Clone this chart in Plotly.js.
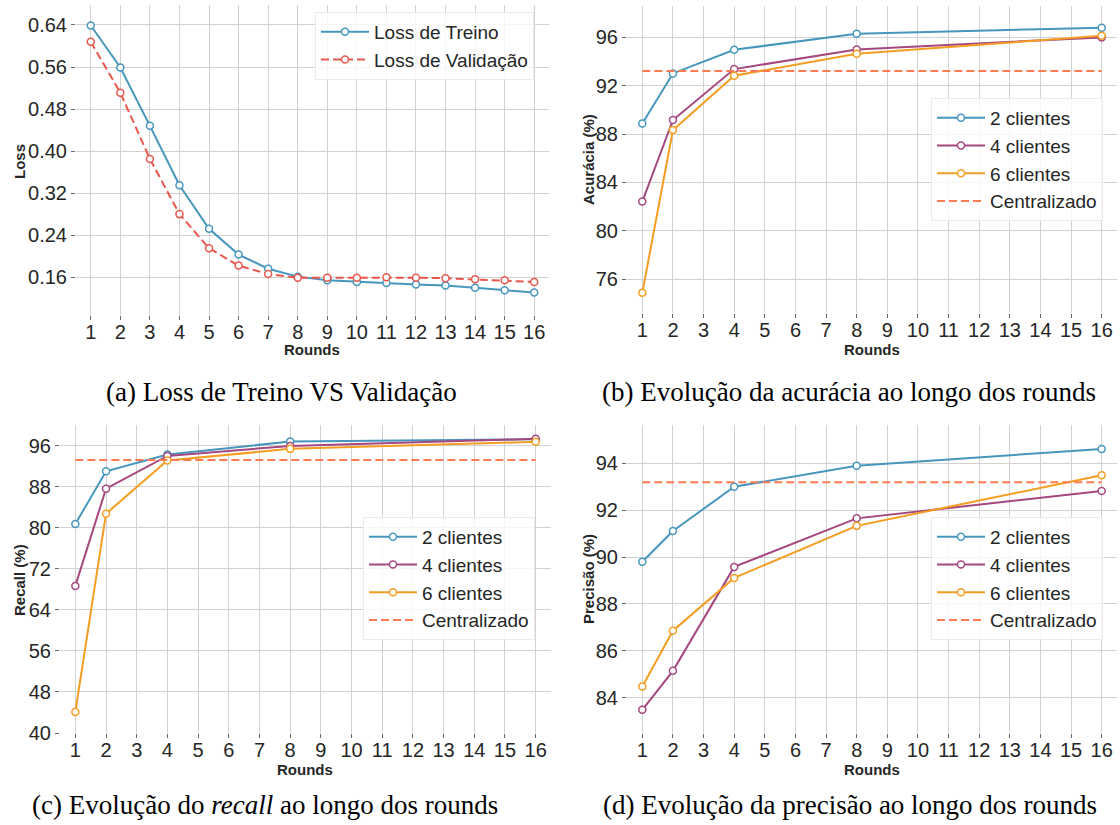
<!DOCTYPE html>
<html>
<head>
<meta charset="utf-8">
<script src="https://cdn.plot.ly/plotly-3.0.1.min.js"></script>
<style>
  html, body { margin: 0; padding: 0; background: #ffffff; }
  #chart { width: 1120px; height: 825px; }
</style>
</head>
<body>
<div id="chart"></div>
<script>
// ---------------- DATA ----------------
const roundsAll = [1, 2, 3, 4, 5, 6, 7, 8, 9, 10, 11, 12, 13, 14, 15, 16];
const roundsFed = [1, 2, 4, 8, 16];
const xTickVals = [1, 2, 3, 4, 5, 6, 7, 8, 9, 10, 11, 12, 13, 14, 15, 16];

const lossTreino = [0.639, 0.559, 0.448, 0.335, 0.252, 0.203, 0.176, 0.161, 0.154, 0.151, 0.149, 0.146, 0.144, 0.140, 0.135, 0.131];
const lossValidacao = [0.608, 0.511, 0.385, 0.280, 0.215, 0.182, 0.166, 0.159, 0.159, 0.159, 0.160, 0.159, 0.158, 0.156, 0.154, 0.151];

const acc2 = [88.87, 93.02, 94.98, 96.30, 96.80];
const acc4 = [82.42, 89.17, 93.38, 95.01, 96.00];
const acc6 = [74.87, 88.34, 92.83, 94.65, 96.14];
const accCentral = 93.22;

const rec2 = [80.70, 90.99, 94.24, 96.78, 97.24];
const rec4 = [68.66, 87.60, 93.98, 95.93, 97.30];
const rec6 = [44.10, 82.72, 93.07, 95.35, 96.72];
const recCentral = 93.20;

const prec2 = [89.80, 91.11, 93.00, 93.89, 94.61];
const prec4 = [83.49, 85.15, 89.58, 91.65, 92.82];
const prec6 = [84.48, 86.86, 89.11, 91.33, 93.49];
const precCentral = 93.19;

const seriesNames = ['2 clientes', '4 clientes', '6 clientes', 'Centralizado'];
const lossNames = ['Loss de Treino', 'Loss de Validação'];
const captions = [
  '(a) Loss de Treino VS Validação',
  '(b) Evolução da acurácia ao longo dos rounds',
  '(c) Evolução do <i>recall</i> ao longo dos rounds',
  '(d) Evolução da precisão ao longo dos rounds'
];
const yTitles = ['Loss', 'Acurácia (%)', 'Recall (%)', 'Precisão (%)'];
const xTitle = 'Rounds';

// ---------------- STYLE ----------------
const W = 1120, H = 825;
const C_BLUE = '#4796bd';
const C_PURPLE = '#a5487f';
const C_ORANGE = '#f59d22';
const C_CENTRAL = '#fb7c52';
const C_RED = '#e9574c';
const SANS = 'Liberation Sans, Arial, sans-serif';
const SERIF = 'Liberation Serif, Times New Roman, serif';
const TXT = '#262626';

function px(x) { return x / W; }
function py(y) { return 1 - y / H; }

function lineTrace(x, y, name, color, xa, ya, leg, dash) {
  return {
    type: 'scatter', mode: 'lines+markers', x: x, y: y, name: name,
    xaxis: xa, yaxis: ya, legend: leg,
    line: { color: color, width: 2, dash: dash || 'solid' },
    marker: { symbol: 'circle', size: 7, color: '#ffffff', line: { color: color, width: 1.5 } }
  };
}
function centralTrace(x, value, xa, ya, leg) {
  return {
    type: 'scatter', mode: 'lines',
    x: [x[0], x[x.length - 1]], y: [value, value], name: seriesNames[3],
    xaxis: xa, yaxis: ya, legend: leg,
    line: { color: C_CENTRAL, width: 2, dash: '8px,4px' }
  };
}

const traces = [
  lineTrace(roundsAll, lossTreino, lossNames[0], C_BLUE, 'x', 'y', 'legend'),
  lineTrace(roundsAll, lossValidacao, lossNames[1], C_RED, 'x', 'y', 'legend', '8px,4px'),

  lineTrace(roundsFed, acc2, seriesNames[0], C_BLUE, 'x2', 'y2', 'legend2'),
  lineTrace(roundsFed, acc4, seriesNames[1], C_PURPLE, 'x2', 'y2', 'legend2'),
  lineTrace(roundsFed, acc6, seriesNames[2], C_ORANGE, 'x2', 'y2', 'legend2'),
  centralTrace(roundsFed, accCentral, 'x2', 'y2', 'legend2'),

  lineTrace(roundsFed, rec2, seriesNames[0], C_BLUE, 'x3', 'y3', 'legend3'),
  lineTrace(roundsFed, rec4, seriesNames[1], C_PURPLE, 'x3', 'y3', 'legend3'),
  lineTrace(roundsFed, rec6, seriesNames[2], C_ORANGE, 'x3', 'y3', 'legend3'),
  centralTrace(roundsFed, recCentral, 'x3', 'y3', 'legend3'),

  lineTrace(roundsFed, prec2, seriesNames[0], C_BLUE, 'x4', 'y4', 'legend4'),
  lineTrace(roundsFed, prec4, seriesNames[1], C_PURPLE, 'x4', 'y4', 'legend4'),
  lineTrace(roundsFed, prec6, seriesNames[2], C_ORANGE, 'x4', 'y4', 'legend4'),
  centralTrace(roundsFed, precCentral, 'x4', 'y4', 'legend4')
];

function xAxis(left, right, anchor) {
  return {
    domain: [px(left), px(right)], anchor: anchor,
    range: [0.5, 16.5], tickmode: 'array', tickvals: xTickVals,
    showgrid: true, gridcolor: '#d2d2d2', gridwidth: 1,
    zeroline: false, showline: false,
    ticks: 'outside', ticklen: 4, tickwidth: 1, tickcolor: '#666666',
    ticklabelstandoff: -5,
    tickfont: { family: SANS, size: 20, color: TXT }
  };
}
function yAxis(top, bottom, anchor, range, tick0, dtick, fmt) {
  return {
    domain: [py(bottom), py(top)], anchor: anchor,
    range: range, tickmode: 'linear', tick0: tick0, dtick: dtick, tickformat: fmt,
    showgrid: true, gridcolor: '#d2d2d2', gridwidth: 1,
    zeroline: false, showline: false,
    ticks: 'outside', ticklen: 4, tickwidth: 1, tickcolor: '#666666',
    tickfont: { family: SANS, size: 20, color: TXT }
  };
}
function legendAt(x, y) {
  return {
    x: px(x), y: py(y), xanchor: 'left', yanchor: 'top',
    xref: 'paper', yref: 'paper',
    bgcolor: 'rgba(255,255,255,0.8)', bordercolor: '#ebebeb', borderwidth: 1,
    font: { family: SANS, size: 19, color: TXT },
    itemwidth: 48, tracegroupgap: 0
  };
}

const annotations = [];
function addText(text, x, y, size, family, angle, color) {
  annotations.push({
    text: text, x: px(x), y: py(y), xref: 'paper', yref: 'paper',
    xanchor: 'center', yanchor: 'middle', showarrow: false,
    textangle: angle || 0,
    font: { family: family, size: size, color: color || '#000000' }
  });
}
// axis titles
addText('<b>' + yTitles[0] + '</b>', 20, 162, 15, SANS, -90, TXT);
addText('<b>' + yTitles[1] + '</b>', 588, 160, 15, SANS, -90, TXT);
addText('<b>' + yTitles[2] + '</b>', 19, 580, 15, SANS, -90, TXT);
addText('<b>' + yTitles[3] + '</b>', 588, 579, 15, SANS, -90, TXT);
addText('<b>' + xTitle + '</b>', 312, 349, 15, SANS, 0, TXT);
addText('<b>' + xTitle + '</b>', 872, 349, 15, SANS, 0, TXT);
addText('<b>' + xTitle + '</b>', 305, 769, 15, SANS, 0, TXT);
addText('<b>' + xTitle + '</b>', 872, 769, 15, SANS, 0, TXT);
// captions
addText(captions[0], 281, 392, 27, SERIF);
addText(captions[1], 849, 392, 27, SERIF);
addText(captions[2], 265, 805, 27, SERIF);
addText(captions[3], 850, 805, 27, SERIF);

const layout = {
  width: W, height: H,
  margin: { l: 0, r: 0, t: 0, b: 0, pad: 0 },
  paper_bgcolor: '#ffffff', plot_bgcolor: '#ffffff',
  showlegend: true,
  xaxis: xAxis(76, 549, 'y'),
  yaxis: yAxis(5, 315, 'x', [0.088, 0.678], 0.16, 0.08, '.2f'),
  xaxis2: xAxis(627, 1117, 'y2'),
  yaxis2: yAxis(6, 313, 'x2', [73.2, 98.6], 76, 4, 'd'),
  xaxis3: xAxis(60, 551, 'y3'),
  yaxis3: yAxis(425, 733, 'x3', [40, 100], 40, 8, 'd'),
  xaxis4: xAxis(627, 1117, 'y4'),
  yaxis4: yAxis(425, 733, 'x4', [82.5, 95.63], 84, 2, 'd'),
  legend: legendAt(315, 12),
  legend2: legendAt(931, 98),
  legend3: legendAt(363, 517),
  legend4: legendAt(931, 517),
  annotations: annotations
};

Plotly.newPlot('chart', traces, layout, { displayModeBar: false, staticPlot: true });
</script>
</body>
</html>
